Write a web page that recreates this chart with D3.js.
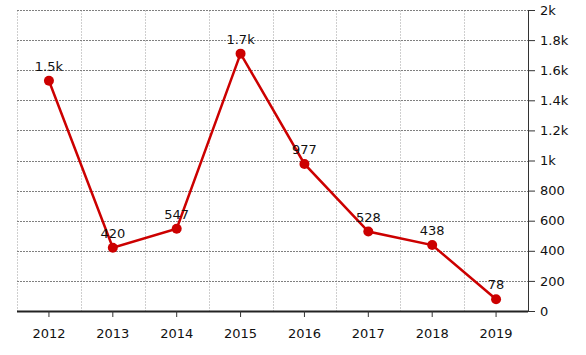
<!DOCTYPE html>
<html><head><meta charset="utf-8">
<script src="https://cdn.jsdelivr.net/npm/d3@7"></script>
<style>body{margin:0;background:#fff}svg{display:block}text{font-family:"DejaVu Sans",Verdana,sans-serif;font-size:13px;fill:#111}</style>
</head><body>
<svg id="c" width="586" height="355"></svg>
<script>
const years = ["2012","2013","2014","2015","2016","2017","2018","2019"];
const values = [1530, 420, 547, 1710, 977, 528, 438, 78];
const labels = ["1.5k","420","547","1.7k","977","528","438","78"];
const yTicks = [0,200,400,600,800,1000,1200,1400,1600,1800,2000];
const yTickLabels = ["0","200","400","600","800","1k","1.2k","1.4k","1.6k","1.8k","2k"];

const svg = d3.select("#c");
const L = 17, R = 528, T = 10, B = 311;
const x = d3.scaleBand().domain(years).range([L, R]);
const y = d3.scaleLinear().domain([0, 2000]).range([B, T]);

// vertical grid (category boundaries)
const g = svg.append("g");
const bounds = years.map(d => x(d));
g.selectAll("line.v").data(bounds).join("line")
  .attr("x1", d => Math.round(d) + 0.5).attr("x2", d => Math.round(d) + 0.5)
  .attr("y1", T).attr("y2", B)
  .attr("stroke", "#cfcfcf").attr("stroke-dasharray", "2,1");
// horizontal grid
g.selectAll("line.h").data(yTicks).join("line")
  .attr("x1", L).attr("x2", R)
  .attr("y1", d => Math.round(y(d)) + 0.5).attr("y2", d => Math.round(y(d)) + 0.5)
  .attr("stroke", "#808080").attr("stroke-dasharray", "2,1");

// right axis
const yAxis = d3.axisRight(y).tickValues(yTicks)
  .tickFormat((d, i) => yTickLabels[i]).tickSize(7).tickPadding(5);
const ya = svg.append("g").attr("transform", `translate(${R},0)`).call(yAxis);
ya.select(".domain").attr("stroke", "#333").attr("d", `M0.5,${T}V${B}`);
ya.selectAll(".tick line").attr("stroke", "#333");
ya.selectAll("text").style("font-family", '"DejaVu Sans",Verdana,sans-serif').style("font-size", "13px").attr("fill", "#111");

// bottom axis
const xAxis = d3.axisBottom(x).tickSize(6).tickPadding(12);
const xa = svg.append("g").attr("transform", `translate(0,${B})`).call(xAxis);
xa.select(".domain").attr("stroke", "#222").attr("stroke-width", 2).attr("d", `M${L},0.5H${R}`);
xa.selectAll(".tick line").attr("stroke", "#333");
xa.selectAll("text").style("font-family", '"DejaVu Sans",Verdana,sans-serif').style("font-size", "13px").attr("fill", "#111");

const cx = d => x(d) + x.bandwidth() / 2;
const line = d3.line().x((d, i) => cx(years[i])).y(d => y(d));
svg.append("path").datum(values).attr("d", line)
  .attr("fill", "none").attr("stroke", "#cc0000").attr("stroke-width", 2.5);
svg.selectAll("circle.p").data(values).join("circle")
  .attr("cx", (d, i) => cx(years[i])).attr("cy", d => y(d)).attr("r", 5)
  .attr("fill", "#cc0000");
svg.selectAll("text.lbl").data(values).join("text")
  .attr("x", (d, i) => cx(years[i])).attr("y", d => y(d) - 10)
  .attr("text-anchor", "middle").text((d, i) => labels[i]);
</script></body></html>
